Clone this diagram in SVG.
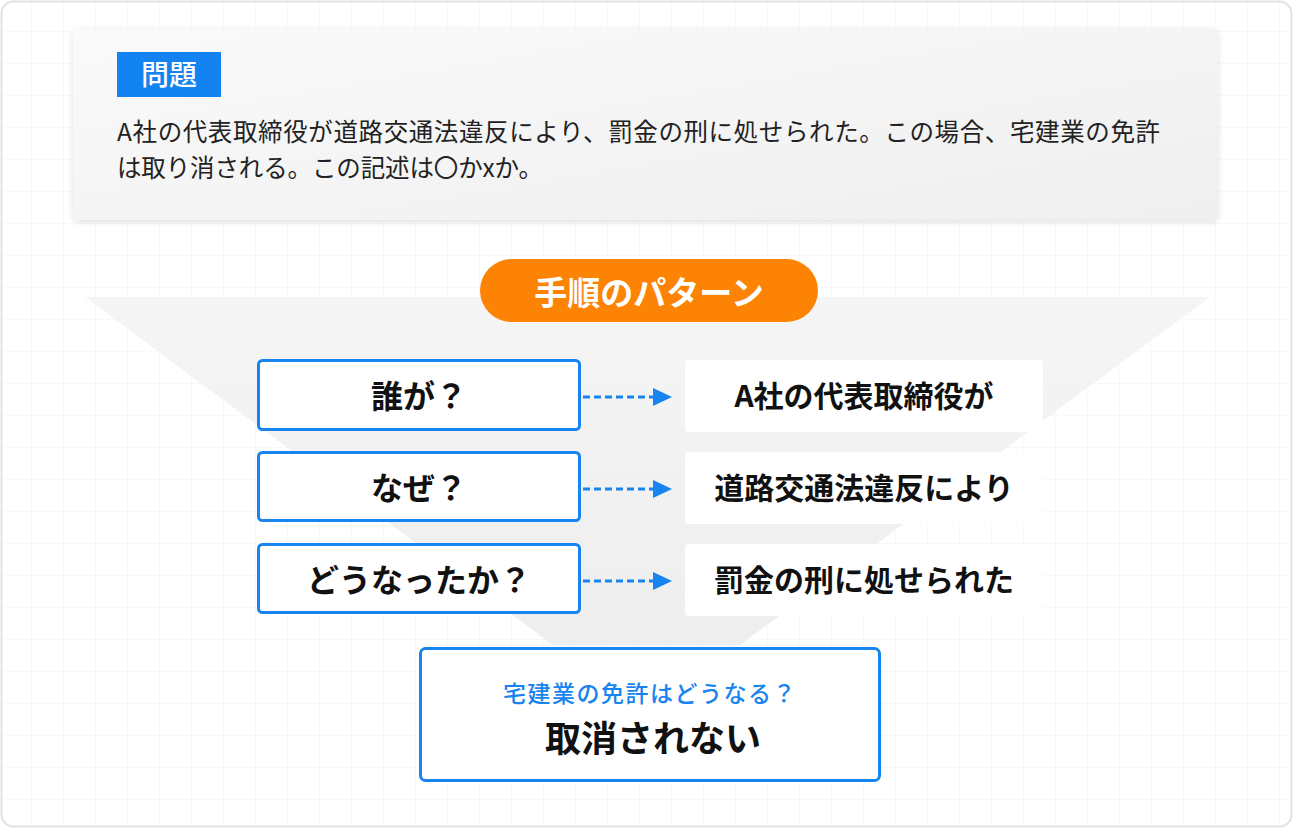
<svg xmlns="http://www.w3.org/2000/svg" width="1293" height="828" viewBox="0 0 1293 828">
<style>
text{font-family:"Noto Sans CJK JP","Noto Sans",sans-serif}
.q{font-size:32px;font-weight:700;fill:#111;text-anchor:middle}
.a{font-size:30px;font-weight:700;fill:#111;text-anchor:middle}
.qbox{fill:#fff;stroke:#1784ef;stroke-width:3}
.abox{fill:#fff}
.conn{stroke:#1784ef;stroke-width:3;stroke-dasharray:7 4;fill:none}
</style>
<defs>
<pattern id="grid" width="32" height="32" patternUnits="userSpaceOnUse">
<path d="M32 0V32M0 32H32" fill="none" stroke="#f0f0f0" stroke-width="1"/>
</pattern>
<linearGradient id="card" x1="0" y1="0" x2="1" y2="1">
<stop offset="0" stop-color="#fafafa"/>
<stop offset="1" stop-color="#efefef"/>
</linearGradient>
<linearGradient id="fun" x1="0" y1="0" x2="0" y2="1">
<stop offset="0" stop-color="#f5f5f5"/>
<stop offset="1" stop-color="#eeeeee"/>
</linearGradient>
<filter id="sh" x="-5%" y="-10%" width="110%" height="130%">
<feDropShadow dx="0" dy="2" stdDeviation="3" flood-color="#000" flood-opacity="0.12"/>
</filter>
<marker id="ah" markerWidth="20" markerHeight="20" refX="0" refY="10" orient="auto" markerUnits="userSpaceOnUse">
<path d="M0 1L19 10L0 19Z" fill="#1784ef"/>
</marker>
</defs>
<rect x="1.5" y="1.5" width="1290" height="825" rx="12" fill="#fff" stroke="#e2e2e2" stroke-width="2"/>
<rect x="3" y="3" width="1287" height="822" rx="11" fill="url(#grid)"/>
<polygon points="85,297 1210,297 740,645 553,645" fill="url(#fun)"/>
<g id="problem">
<rect x="73" y="28" width="1145" height="192" rx="6" fill="url(#card)" filter="url(#sh)"/>
<rect x="117" y="52" width="104" height="45" fill="#1283f0"/>
<text x="169" y="85" font-size="28" font-weight="500" fill="#fff" text-anchor="middle">問題</text>
<text x="117" y="141" font-size="24.5" fill="#222" textLength="1043" lengthAdjust="spacing">A社の代表取締役が道路交通法違反により、罰金の刑に処せられた。この場合、宅建業の免許</text>
<text x="117" y="177" font-size="24.5" fill="#222" textLength="426" lengthAdjust="spacing">は取り消される。この記述は〇かxか。</text>
</g>
<g id="pattern">
<rect x="480" y="259" width="338" height="63" rx="31.5" fill="#fd8305"/>
<text x="649" y="305" font-size="33" font-weight="700" fill="#fff" text-anchor="middle">手順のパターン</text>
</g>
<g id="q1"><rect class="qbox" x="258.5" y="360.5" width="321" height="69" rx="4"/><text class="q" x="419" y="408">誰が？</text></g>
<g id="q2"><rect class="qbox" x="258.5" y="452.5" width="321" height="68" rx="4"/><text class="q" x="419" y="500">なぜ？</text></g>
<g id="q3"><rect class="qbox" x="258.5" y="544.5" width="321" height="68" rx="4"/><text class="q" x="419" y="592">どうなったか？</text></g>
<g id="a1"><rect class="abox" x="685" y="360" width="358" height="72" rx="4"/><text class="a" x="864" y="407">A社の代表取締役が</text></g>
<g id="a2"><rect class="abox" x="685" y="452" width="358" height="72" rx="4"/><text class="a" x="864" y="499">道路交通法違反により</text></g>
<g id="a3"><rect class="abox" x="685" y="544" width="358" height="72" rx="4"/><text class="a" x="864" y="591">罰金の刑に処せられた</text></g>
<g id="connectors">
<path class="conn" d="M583 397H653" marker-end="url(#ah)"/>
<path class="conn" d="M583 489H653" marker-end="url(#ah)"/>
<path class="conn" d="M583 581H653" marker-end="url(#ah)"/>
</g>
<g id="result">
<rect x="420.5" y="648.5" width="459" height="132" rx="5" fill="#fff" stroke="#1784ef" stroke-width="3"/>
<text x="650" y="702" font-size="23" font-weight="500" fill="#1784ef" text-anchor="middle" letter-spacing="1.5">宅建業の免許はどうなる？</text>
<text x="653" y="752" font-size="36" font-weight="700" fill="#111" text-anchor="middle">取消されない</text>
</g>
</svg>
